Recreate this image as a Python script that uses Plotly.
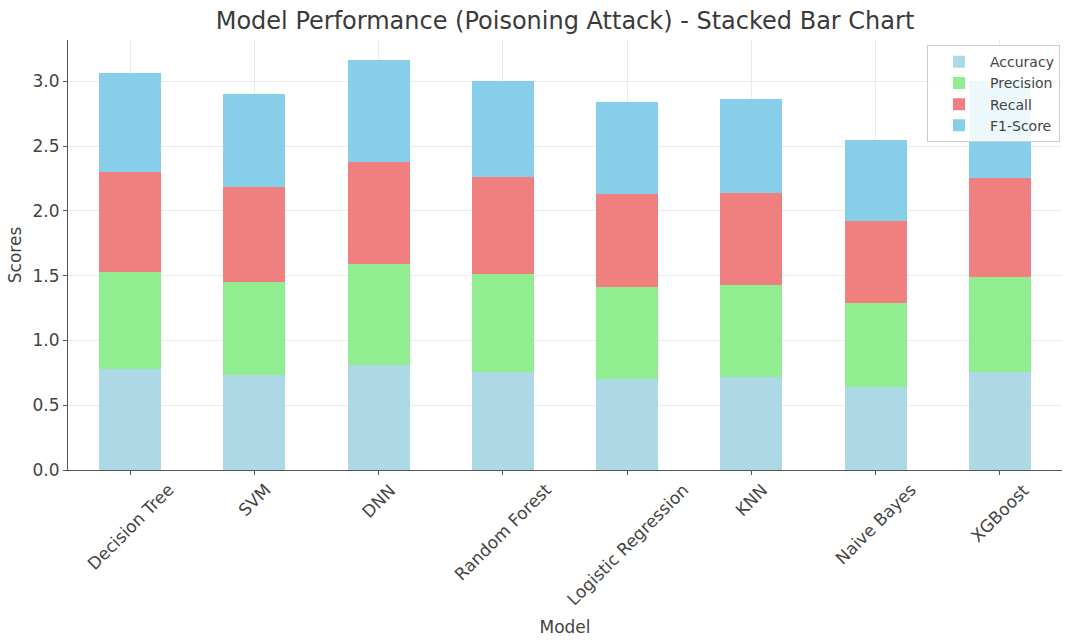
import plotly.graph_objects as go

models = ["Decision Tree", "SVM", "DNN", "Random Forest", "Logistic Regression", "KNN", "Naive Bayes", "XGBoost"]
accuracy = [0.78, 0.73, 0.81, 0.76, 0.70, 0.72, 0.64, 0.76]
precision = [0.75, 0.72, 0.78, 0.75, 0.71, 0.71, 0.65, 0.73]
recall = [0.77, 0.73, 0.79, 0.75, 0.72, 0.71, 0.63, 0.76]
f1_score = [0.76, 0.72, 0.78, 0.74, 0.71, 0.72, 0.63, 0.75]
y_ticks = [0.0, 0.5, 1.0, 1.5, 2.0, 2.5, 3.0]

series = [
    ("Accuracy", accuracy, "#ADD8E6"),
    ("Precision", precision, "#90EE90"),
    ("Recall", recall, "#F08080"),
    ("F1-Score", f1_score, "#87CEEB"),
]

FONT = "DejaVu Sans"
TXT = "#444444"

fig = go.Figure()
for name, vals, color in series:
    fig.add_trace(go.Bar(x=models, y=vals, name=name, marker=dict(color=color, line=dict(width=0))))

for m in models:
    fig.add_annotation(x=m, y=0, xref="x", yref="paper", text=m, showarrow=False,
                       textangle=-45, xanchor="center", yanchor="top", yshift=-7,
                       font=dict(family=FONT, size=17, color=TXT))

total_max = max(a + b + c + d for a, b, c, d in zip(accuracy, precision, recall, f1_score))

fig.update_layout(
    width=1065, height=640,
    barmode="stack", bargap=0.5,
    paper_bgcolor="white", plot_bgcolor="white",
    margin=dict(l=68, r=3, t=40, b=170),
    font=dict(family=FONT, size=17, color=TXT),
    title=dict(text="Model Performance (Poisoning Attack) - Stacked Bar Chart",
               xref="paper", x=0.5, xanchor="center", y=0.968, yanchor="middle",
               font=dict(family=FONT, size=24, color="#3a3a3a")),
    xaxis=dict(range=[-0.5, 7.5], showticklabels=False, ticks="outside", ticklen=4,
               tickcolor="#555555", showline=True, linecolor="#555555", linewidth=1.2,
               showgrid=True, gridcolor="#EBEBEB", automargin=False,
               title=dict(text="Model", font=dict(family=FONT, size=17, color=TXT), standoff=146)),
    yaxis=dict(range=[0, total_max * 1.05], tickvals=y_ticks, tickformat=".1f",
               ticks="outside", ticklen=4, tickcolor="#555555",
               showline=True, linecolor="#555555", linewidth=1.2,
               showgrid=True, gridcolor="#EBEBEB", zeroline=False, automargin=False,
               tickfont=dict(family=FONT, size=17, color=TXT),
               title=dict(text="Scores", font=dict(family=FONT, size=17, color=TXT), standoff=6)),
    legend=dict(x=0.998, xanchor="right", y=0.988, yanchor="top", traceorder="normal",
                itemwidth=52,
                bgcolor="rgba(255,255,255,0.85)", bordercolor="#CCCCCC", borderwidth=1,
                font=dict(family=FONT, size=14, color=TXT)),
    showlegend=True,
)

fig.write_html("out.html", config={"displayModeBar": False},
               post_script="document.body.style.margin='0';document.body.style.overflow='hidden';")
